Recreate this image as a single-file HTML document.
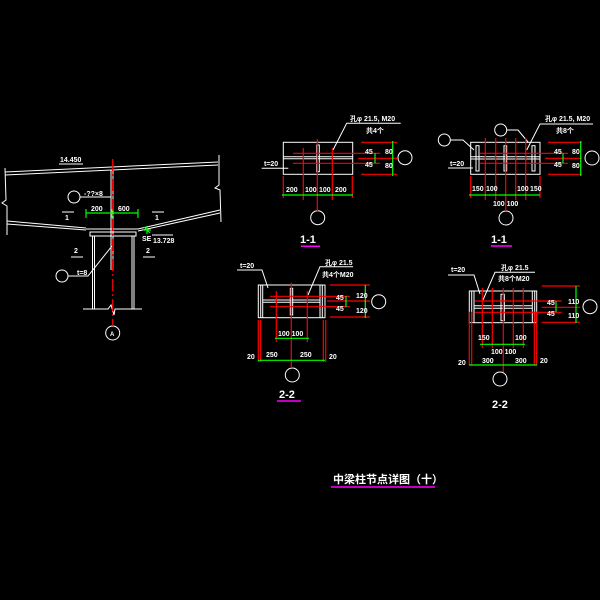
<!DOCTYPE html>
<html><head><meta charset="utf-8"><style>
html,body{margin:0;padding:0;background:#000;}
svg{display:block;}
text{font-family:"Liberation Sans","Noto Sans CJK SC",sans-serif;font-weight:bold;fill:#fff;}
</style></head><body>
<svg width="600" height="600" viewBox="0 0 600 600" xmlns="http://www.w3.org/2000/svg">
<rect width="600" height="600" fill="#000"/>
<g stroke="#fff" stroke-width="1" fill="none">
 <line x1="5" y1="172" x2="218" y2="162"/><line x1="5" y1="175" x2="218" y2="165"/>
 <line x1="7" y1="221" x2="86" y2="228"/><line x1="7" y1="224" x2="86" y2="230"/>
 <line x1="138" y1="229" x2="220" y2="210"/><line x1="138" y1="231" x2="220" y2="213"/>
 <polyline points="5,168 6,200 2,203 7,206 7,235"/>
 <polyline points="219,155 219,185 215,188 220,190 221,222"/>
 <line x1="86" y1="229" x2="138" y2="229"/>
 <rect x="90" y="232" width="46" height="4"/>
 <line x1="92.5" y1="236" x2="92.5" y2="309"/><line x1="94.5" y1="236" x2="94.5" y2="309"/>
 <line x1="132" y1="236" x2="132" y2="309"/><line x1="134" y1="236" x2="134" y2="309"/>
 <polyline points="83,309 108,309 111,305 114,315 115,309 142,309"/>
 <line x1="111" y1="170" x2="111" y2="270"/><line x1="113" y1="170" x2="113" y2="270"/>
 <circle cx="112.7" cy="333" r="7"/>
 <line x1="59" y1="164" x2="83" y2="164"/>
 <circle cx="74" cy="197" r="6"/><line x1="80" y1="197" x2="111" y2="197"/>
 <line x1="62" y1="212" x2="74" y2="212"/><line x1="152" y1="212" x2="164" y2="212"/>
 <line x1="71" y1="257" x2="83" y2="257"/><line x1="143" y1="257" x2="155" y2="257"/>
 <circle cx="62" cy="276" r="6"/><polyline points="68,276 88,276 112,246"/>
 <line x1="152" y1="235" x2="173" y2="235"/>
 <rect x="283.3" y="142.3" width="69.4" height="32"/>
 <line x1="283.3" y1="156.7" x2="352.7" y2="156.7"/><line x1="283.3" y1="158.7" x2="352.7" y2="158.7"/>
 <rect x="316.7" y="145" width="2.6" height="26.7"/>
 <circle cx="317.7" cy="217.7" r="7"/>
 <polyline points="333,150 346.7,123.3 400.7,123.3"/>
 <line x1="261.7" y1="168.3" x2="288.3" y2="168.3"/>
 <circle cx="405" cy="157.7" r="7"/>
 <rect x="470.7" y="142.3" width="69.3" height="32"/>
 <line x1="470.7" y1="156.7" x2="540" y2="156.7"/><line x1="470.7" y1="159" x2="540" y2="159"/>
 <rect x="476" y="145.7" width="3" height="25.3"/><rect x="504" y="145.7" width="2.7" height="25.3"/><rect x="532" y="145.7" width="3" height="25.3"/>
 <circle cx="592" cy="158" r="7"/><circle cx="506" cy="218" r="7"/>
 <circle cx="444.3" cy="140" r="6"/><polyline points="450.3,140 463,140 474,150"/>
 <circle cx="500.7" cy="130" r="6"/><polyline points="506.7,130 518,130 528,142"/>
 <polyline points="526.7,150 540,124 593,124"/>
 <line x1="448" y1="168" x2="473" y2="168"/>
 <rect x="258.3" y="285" width="66.7" height="32.7"/>
 <line x1="260.7" y1="285" x2="260.7" y2="317.7"/><line x1="262.7" y1="285" x2="262.7" y2="317.7"/>
 <line x1="320" y1="285" x2="320" y2="317.7"/><line x1="322.3" y1="285" x2="322.3" y2="317.7"/>
 <line x1="262.7" y1="300" x2="320" y2="300"/><line x1="262.7" y1="302.3" x2="320" y2="302.3"/>
 <rect x="290.3" y="288.3" width="2.4" height="26.7"/>
 <circle cx="292.3" cy="375" r="7"/><circle cx="378.7" cy="301.7" r="7"/>
 <polyline points="237,270 262,270 268,288"/>
 <polyline points="308,295 320,266.7 353,266.7"/>
 <rect x="469.3" y="291" width="67.4" height="31.7"/>
 <line x1="471.7" y1="291" x2="471.7" y2="322.7"/><line x1="474" y1="291" x2="474" y2="322.7"/>
 <line x1="532.3" y1="291" x2="532.3" y2="322.7"/><line x1="534.7" y1="291" x2="534.7" y2="322.7"/>
 <line x1="474" y1="305.7" x2="532.3" y2="305.7"/><line x1="474" y1="308.3" x2="532.3" y2="308.3"/>
 <rect x="501" y="294.3" width="3.3" height="26.4"/>
 <circle cx="500" cy="379" r="7"/><circle cx="590" cy="306.7" r="7"/>
 <polyline points="448,275 474,275 480,294"/>
 <polyline points="483,300 495,272.3 535,272.3"/>
</g>
<g stroke="#f00" stroke-width="1.2" fill="none">
 <line x1="112.7" y1="159" x2="112.7" y2="326" stroke-dasharray="12,3,2,3"/>
 <line x1="293" y1="153.3" x2="380" y2="153.3"/><line x1="293" y1="163.3" x2="380" y2="163.3"/>
 <line x1="303.3" y1="148" x2="303.3" y2="200"/><line x1="317.3" y1="139" x2="317.3" y2="211"/><line x1="332.3" y1="148" x2="332.3" y2="200"/>
 <line x1="283.3" y1="176" x2="283.3" y2="198"/><line x1="352.3" y1="176" x2="352.3" y2="198"/>
 <line x1="361" y1="142.3" x2="397" y2="142.3"/><line x1="358" y1="158.3" x2="397" y2="158.3"/><line x1="361" y1="174.3" x2="397" y2="174.3"/>
 <line x1="480" y1="153.3" x2="568" y2="153.3"/><line x1="480" y1="163.3" x2="568" y2="163.3"/>
 <line x1="485.3" y1="138" x2="485.3" y2="200"/><line x1="495.7" y1="138" x2="495.7" y2="200"/><line x1="505.7" y1="138" x2="505.7" y2="211"/><line x1="515.7" y1="138" x2="515.7" y2="200"/><line x1="525.7" y1="138" x2="525.7" y2="200"/>
 <line x1="470.7" y1="176" x2="470.7" y2="198"/><line x1="540" y1="176" x2="540" y2="198"/>
 <line x1="548" y1="142.3" x2="582" y2="142.3"/><line x1="545" y1="158.3" x2="582" y2="158.3"/><line x1="548" y1="174.3" x2="582" y2="174.3"/>
 <line x1="270" y1="296.3" x2="350" y2="296.3"/><line x1="270" y1="306.7" x2="350" y2="306.7"/>
 <line x1="276.3" y1="291" x2="276.3" y2="342"/><line x1="291.3" y1="283" x2="291.3" y2="368"/><line x1="307.3" y1="291" x2="307.3" y2="342"/>
 <line x1="258.3" y1="320" x2="258.3" y2="362"/><line x1="260.7" y1="320" x2="260.7" y2="362"/><line x1="323.3" y1="320" x2="323.3" y2="362"/><line x1="325.7" y1="320" x2="325.7" y2="362"/>
 <line x1="330" y1="285" x2="370" y2="285"/><line x1="327" y1="301" x2="370" y2="301"/><line x1="330" y1="317" x2="370" y2="317"/>
 <line x1="475" y1="301" x2="561.7" y2="301"/><line x1="475" y1="312.3" x2="561.7" y2="312.3"/>
 <line x1="482.3" y1="288" x2="482.3" y2="348"/><line x1="492.3" y1="288" x2="492.3" y2="348"/><line x1="503.3" y1="288" x2="503.3" y2="372"/><line x1="513.3" y1="288" x2="513.3" y2="348"/><line x1="523.3" y1="288" x2="523.3" y2="348"/>
 <line x1="469.3" y1="311.7" x2="469.3" y2="365"/><line x1="471.7" y1="311.7" x2="471.7" y2="365"/><line x1="534.3" y1="311.7" x2="534.3" y2="365"/><line x1="536.7" y1="311.7" x2="536.7" y2="365"/>
 <line x1="541.7" y1="286" x2="580" y2="286"/><line x1="541.7" y1="307.3" x2="580" y2="307.3"/><line x1="541.7" y1="322.3" x2="580" y2="322.3"/>
</g>
<g stroke="#0f0" stroke-width="1.2" fill="none">
 <line x1="86" y1="213" x2="138" y2="213"/><line x1="86" y1="209" x2="86" y2="218"/><line x1="112" y1="209" x2="112" y2="218"/><line x1="138" y1="209" x2="138" y2="218"/>
 <path d="M143,230 L151,230 M147,226 L147,234 M144,227 L150,233"/>
 <line x1="282" y1="195" x2="353" y2="195"/><line x1="392.7" y1="141" x2="392.7" y2="176"/><line x1="375" y1="153" x2="375" y2="163"/>
 <line x1="469" y1="195" x2="540" y2="195"/><line x1="580.7" y1="141" x2="580.7" y2="176"/><line x1="563" y1="153" x2="563" y2="163"/>
 <line x1="275" y1="338.3" x2="309" y2="338.3"/><line x1="258" y1="360.3" x2="325" y2="360.3"/><line x1="365.3" y1="285" x2="365.3" y2="318"/><line x1="346" y1="296" x2="346" y2="307"/>
 <line x1="480" y1="344.3" x2="525" y2="344.3"/><line x1="469" y1="365" x2="537" y2="365"/><line x1="576" y1="286" x2="576" y2="323"/><line x1="556" y1="301" x2="556" y2="312"/>
</g>
<g stroke="#f0f" stroke-width="1.5">
 <line x1="301" y1="246.3" x2="320" y2="246.3"/><line x1="491" y1="246" x2="512" y2="246"/>
 <line x1="277" y1="401" x2="301" y2="401"/>
 <line x1="331" y1="487" x2="435" y2="487"/>
</g>
<g font-size="7">
 <text x="60" y="162">14.450</text>
 <text x="84" y="196">-??×8</text>
 <text x="91" y="211">200</text><text x="118" y="211">600</text>
 <text x="65" y="220">1</text><text x="155" y="220">1</text>
 <text x="74" y="253">2</text><text x="146" y="253">2</text>
 <text x="77" y="275">t=8</text>
 <text x="153" y="243">13.728</text><text x="142" y="241">SE</text>
 <text x="110" y="336" font-size="6">A</text>
 <text x="286" y="192">200</text><text x="305" y="192">100</text><text x="319" y="192">100</text><text x="335" y="192">200</text>
 <text x="264" y="166">t=20</text>
 <text x="350" y="121">孔φ 21.5, M20</text><text x="366" y="133">共4个</text>
 <text x="365" y="154">45</text><text x="365" y="167">45</text><text x="385" y="154">80</text><text x="385" y="168">80</text>
 <text x="472" y="191">150</text><text x="486" y="191">100</text><text x="517" y="191">100</text><text x="530" y="191">150</text>
 <text x="493" y="206">100 100</text>
 <text x="450" y="166">t=20</text>
 <text x="545" y="121">孔φ 21.5, M20</text><text x="556" y="133">共8个</text>
 <text x="554" y="154">45</text><text x="554" y="167">45</text><text x="572" y="154">80</text><text x="572" y="168">80</text>
 <text x="240" y="268">t=20</text>
 <text x="325" y="265">孔φ 21.5</text><text x="322" y="277">共4个M20</text>
 <text x="278" y="336">100 100</text>
 <text x="266" y="357">250</text><text x="300" y="357">250</text><text x="247" y="359">20</text><text x="329" y="359">20</text>
 <text x="336" y="300">45</text><text x="336" y="311">45</text><text x="356" y="298">120</text><text x="356" y="313">120</text>
 <text x="451" y="272">t=20</text>
 <text x="501" y="270">孔φ 21.5</text><text x="498" y="281">共8个M20</text>
 <text x="478" y="340">150</text><text x="515" y="340">100</text><text x="491" y="354">100 100</text>
 <text x="482" y="363">300</text><text x="515" y="363">300</text><text x="458" y="365">20</text><text x="540" y="363">20</text>
 <text x="547" y="305">45</text><text x="547" y="316">45</text><text x="568" y="304">110</text><text x="568" y="318">110</text>
</g>
<g font-size="11">
 <text x="300" y="243">1-1</text><text x="491" y="243">1-1</text>
 <text x="279" y="398">2-2</text><text x="492" y="408">2-2</text>
</g>
<text x="333" y="483" font-size="11">中梁柱节点详图（十）</text>
</svg>
</body></html>
